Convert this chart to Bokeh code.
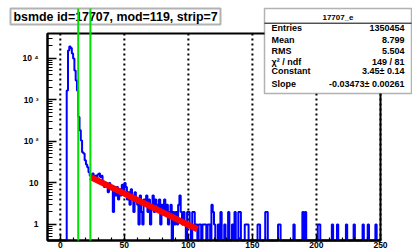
import numpy as np
from bokeh.plotting import figure
from bokeh.models import FixedTicker, BoxAnnotation, Label, Arrow, Range1d
from bokeh.embed import file_html
from bokeh.resources import INLINE

# ---------------- data ----------------
# counts for bins [k, k+1), k = 0 .. 98
head_counts = [
    0, 0, 0, 0, 0, 1700, 15500, 19500, 17800, 13200,
    10000, 5100, 2950, 1700, 390, 186, 105, 55, 51, 35,
    28, 24, 18, 15, 15, 17, 13, 15, 12, 16,
    17, 14, 15, 11, 8, 10, 9, 6, 10, 7,
    8, 2, 6, 5, 8, 4, 7, 5, 9, 6,
    10, 8, 4, 6, 3, 7, 5, 2, 6, 4,
    3, 1, 5, 2, 1, 4, 3, 5, 2, 4,
    1, 3, 5, 2, 4, 3, 2, 4, 1, 3,
    2, 4, 2, 3, 1, 2, 3, 0, 2, 1,
    2, 1, 3, 5, 2, 1, 2, 1, 0,
]
# sparse tail: non-empty bins beyond 98
tail_bins = [99, 100, 101, 103, 104, 105, 106, 108, 109, 111, 112, 113, 115, 116,
             118, 119, 120, 123, 125, 128, 131, 134, 136, 139, 140, 144, 145, 146,
             154, 155, 160, 161, 170, 171, 182, 189, 191, 201, 202, 212, 216, 223,
             229, 236, 240, 246]
tail_counts = [2, 2, 1, 2, 2, 1, 1, 1, 1, 1, 1, 1, 1, 1,
               3, 2, 1, 1, 2, 1, 2, 1, 2, 2, 2, 1, 1, 1,
               1, 1, 2, 2, 1, 1, 1, 2, 2, 1, 1, 1, 1, 1,
               1, 1, 1, 1]
x_lo, x_hi = -10, 250
y_lo, y_hi = 0.41, 40000
fit_x = [23.5, 107.0]
fit_y = [13.9, 0.766]
cut_x = [14.0, 23.5]
x_ticks = [0, 50, 100, 150, 200, 250]
x_minor = [-10, 10, 20, 30, 40, 60, 70, 80, 90, 110, 120, 130, 140, 160, 170, 180,
           190, 210, 220, 230, 240]
y_ticks = [1, 10, 100, 1000, 10000]
y_labels = ["1", "10", "10 \u00b2", "10 \u00b3", "10 \u2074"]
y_minor = [0.5, 0.6, 0.7, 0.8, 0.9, 2, 3, 4, 5, 6, 7, 8, 9,
           20, 30, 40, 50, 60, 70, 80, 90, 200, 300, 400, 500, 600, 700, 800, 900,
           2000, 3000, 4000, 5000, 6000, 7000, 8000, 9000, 20000, 30000]
title_text = "bsmde id=17707, mod=119, strip=7"
hist_name = "17707_e"
stats_labels = ["Entries", "Mean", "RMS", "\u03c7\u00b2 / ndf", "Constant", "Slope"]
stats_values = ["1350454", "8.799", "5.504", "149 / 81", "3.45\u00b1 0.14",
                "-0.03473\u00b1 0.00261"]

# ---------------- layout (pixel positions on the canvas) ----------------
W, H = 412, 250
FL, FR, FT, FB = 47, 380, 33, 240          # the histogram frame on the canvas
FONT = "Liberation Sans"
LOG_LO, LOG_HI = np.log10(y_lo), np.log10(y_hi)


def dx(px):
    """canvas x pixel -> data x"""
    return x_lo + (px - FL) / (FR - FL) * (x_hi - x_lo)


def dy(py):
    """canvas y pixel -> data y (log axis)"""
    return 10 ** (LOG_HI - (py - FT) / (FB - FT) * (LOG_HI - LOG_LO))


# the plotting frame covers the whole canvas; the axes are pinned to the
# histogram frame with fixed_location / bounds
p = figure(width=W, height=H, x_range=Range1d(dx(0), dx(W)), y_range=Range1d(dy(H), dy(0)),
           y_axis_type="log", output_backend="svg", toolbar_location=None, title=None,
           min_border=0, min_border_left=0, min_border_right=0, min_border_top=0,
           min_border_bottom=0)
p.outline_line_color = None
p.background_fill_color = "white"
p.border_fill_color = "white"
p.grid.visible = False

xa, ya = p.xaxis[0], p.yaxis[0]
xa.fixed_location = y_lo
xa.bounds = (x_lo, x_hi)
ya.fixed_location = x_lo
ya.bounds = (y_lo, y_hi)
for ax in (xa, ya):
    ax.axis_line_width = 2
    ax.major_tick_out = 0
    ax.minor_tick_out = 0
    ax.major_tick_line_width = 1.5
    ax.minor_tick_line_width = 1.2
    ax.major_label_text_font = FONT
    ax.major_label_text_font_style = "bold"
    ax.major_label_text_font_size = "8.5px"
    ax.major_label_text_color = "black"

xa.ticker = FixedTicker(ticks=x_ticks, minor_ticks=x_minor)
xa.major_tick_in = 6
xa.minor_tick_in = 3
xa.major_label_standoff = 1

ya.ticker = FixedTicker(ticks=y_ticks, minor_ticks=y_minor)
ya.major_label_overrides = dict(zip(y_ticks, y_labels))
ya.major_tick_in = 9
ya.minor_tick_in = 5
ya.major_label_standoff = 9

# dotted vertical grid at the major x ticks, inside the histogram frame
p.segment(x0=x_ticks, y0=[y_lo] * len(x_ticks), x1=x_ticks, y1=[y_hi] * len(x_ticks),
          line_color="black", line_dash="2 3", line_width=2)

# histogram
edges = np.arange(x_lo, x_hi + 1)
counts = np.zeros(len(edges) - 1)
counts[-x_lo:-x_lo + len(head_counts)] = head_counts
for b, c in zip(tail_bins, tail_counts):
    counts[b - x_lo] = c
yv = np.where(counts > 0, counts, y_lo)
xs = np.append(edges[:-1], edges[-1])
ys = np.append(yv, yv[-1])
p.step(xs, ys, mode="after", line_color="#0000ff", line_width=2)

# fit
p.line(fit_x, fit_y, line_color="#ff0000", line_width=6)

# histogram frame (top / right sides)
p.quad(left=[x_lo], right=[x_hi], bottom=[y_lo], top=[y_hi], fill_color=None,
       line_color="black", line_width=2)


def box(l, r, t, b, **kw):
    return BoxAnnotation(left=dx(l), right=dx(r), top=dy(t), bottom=dy(b),
                         level="overlay", **kw)


def label(x, y, text, align, size):
    return Label(x=dx(x), y=dy(y), text=text, text_baseline="middle", text_align=align,
                 text_font=FONT, text_font_style="bold", text_font_size=size,
                 text_color="black", level="overlay")


# title box
p.add_layout(box(10, 220, 8, 24, fill_color="white", fill_alpha=1,
                 line_color="black", line_width=2))
p.add_layout(label(13, 16.5, title_text, "left", "12.4px"))

# stats box
BL, BR, BT, BB = 264, 411, 8, 93
p.add_layout(box(BL, BR, BT, BB, fill_color="white", fill_alpha=1,
                 line_color="black", line_width=1.5))
p.add_layout(Arrow(end=None, x_start=dx(BL), x_end=dx(BR), y_start=dy(22.7),
                   y_end=dy(22.7), line_color="black", line_width=1, level="overlay"))
p.add_layout(label((BL + BR) / 2, 16.5, hist_name, "center", "8px"))
row_y = [27, 39, 50.7, 61, 70.5, 83.3]
for lab, val, ry in zip(stats_labels, stats_values, row_y):
    p.add_layout(label(BL + 7, ry, lab, "left", "9px"))
    p.add_layout(label(BR - 7, ry, val, "right", "9px"))

# green cut lines, drawn over everything up to the top of the title box
for cx in cut_x:
    p.add_layout(Arrow(end=None, x_start=cx, x_end=cx, y_start=y_lo, y_end=dy(8),
                       line_color="#00e000", line_width=2, level="overlay"))

open("out.html", "w").write(file_html(p, INLINE))
